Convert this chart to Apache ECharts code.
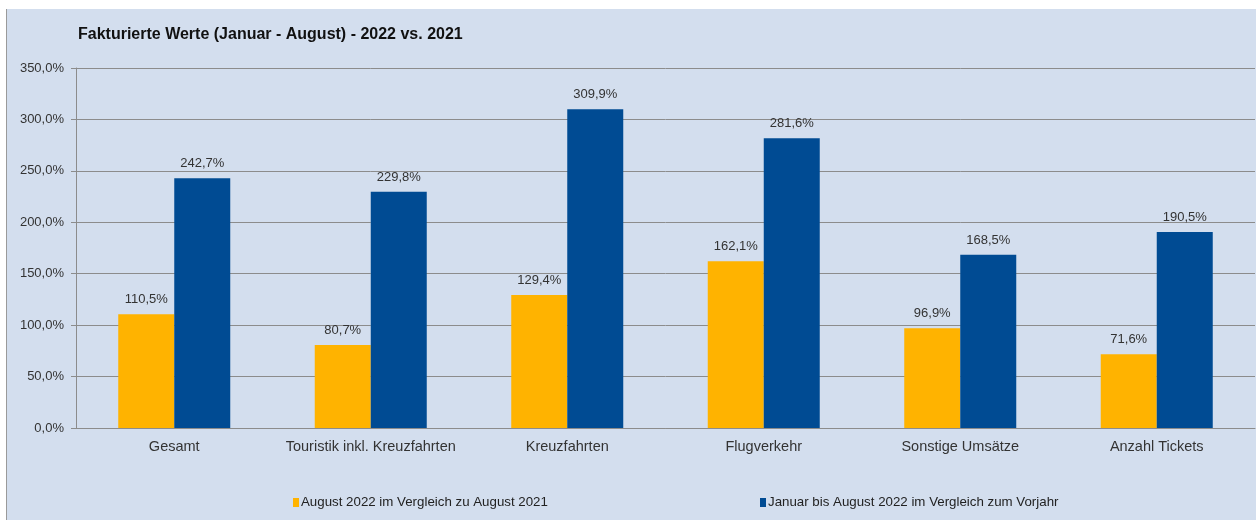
<!DOCTYPE html>
<html><head><meta charset="utf-8">
<script src="https://cdn.jsdelivr.net/npm/echarts@6/dist/echarts.min.js"></script>
<style>html,body{margin:0;padding:0;background:#fff;}#c{width:1259px;height:520px;}</style>
</head><body><div id="c"></div>
<script>
const categories = ['Gesamt','Touristik inkl. Kreuzfahrten','Kreuzfahrten','Flugverkehr','Sonstige Umsätze','Anzahl Tickets'];
const augustValues = [110.5, 80.7, 129.4, 162.1, 96.9, 71.6];
const janAugValues = [242.7, 229.8, 309.9, 281.6, 168.5, 190.5];
const seriesNames = ['August 2022 im Vergleich zu August 2021','Januar bis August 2022 im Vergleich zum Vorjahr'];
const titleText = 'Fakturierte Werte (Januar - August) - 2022 vs. 2021';

const fmt = v => v.toFixed(1).replace('.', ',') + '%';
const chart = echarts.init(document.getElementById('c'));
const font = "'Liberation Sans',Arial,sans-serif";
chart.setOption({
  animation: false,
  textStyle: {fontFamily: font},
  graphic: [
    {type:'rect', z:-10, silent:true, shape:{x:7,y:9,width:1249,height:511}, style:{fill:'#D3DEEE'}},
    {type:'line', z:-5, silent:true, shape:{x1:6.5,y1:9,x2:6.5,y2:520}, style:{stroke:'#9a9a9a',lineWidth:1}}
  ],
  title: {text: titleText, left: 73, top: 22, textStyle:{fontSize:16, fontWeight:'bold', color:'#111', fontFamily:font}},
  legend: [
    {data:[seriesNames[0]], left: 288, top: 491, itemWidth:6, itemHeight:9, itemGap:4, icon:'rect', textStyle:{fontSize:13.3, color:'#222', fontFamily:font, padding:[0,0,0,-3]}},
    {data:[seriesNames[1]], left: 755, top: 491, itemWidth:6, itemHeight:9, itemGap:4, icon:'rect', textStyle:{fontSize:13.3, color:'#222', fontFamily:font, padding:[0,0,0,-3]}}
  ],
  grid: {left: 76, right: 4, top: 68, bottom: 92},
  xAxis: {
    type:'category', data: categories,
    axisLine:{lineStyle:{color:'#8c8c8c', width:1}},
    axisTick:{show:false},
    axisLabel:{interval:0, fontSize:14.5, color:'#333', margin:11}
  },
  yAxis: {
    type:'value', min:0, max:350, interval:50,
    axisLine:{show:true, lineStyle:{color:'#8c8c8c', width:1}},
    axisTick:{show:true, length:5, lineStyle:{color:'#8c8c8c'}},
    splitLine:{lineStyle:{color:'#8c8c8c', width:1}},
    axisLabel:{fontSize:13, color:'#333', margin:12, formatter: fmt}
  },
  series: [
    {name: seriesNames[0], type:'bar', data: augustValues, barGap:'0%', barCategoryGap:'43%',
     itemStyle:{color:'#FFB300'},
     label:{show:true, position:'top', distance:8, fontSize:13, color:'#333', formatter: p => fmt(p.value)}},
    {name: seriesNames[1], type:'bar', data: janAugValues,
     itemStyle:{color:'#004B93'},
     label:{show:true, position:'top', distance:8, fontSize:13, color:'#333', formatter: p => fmt(p.value)}}
  ]
});
</script></body></html>
